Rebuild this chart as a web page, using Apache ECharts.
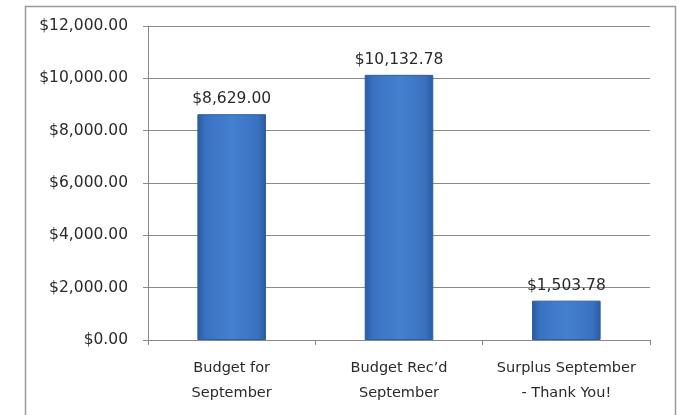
<!DOCTYPE html>
<html><head><meta charset="utf-8">
<script src="https://cdn.jsdelivr.net/npm/echarts@6/dist/echarts.min.js"></script>
<style>html,body{margin:0;padding:0;background:#fff}#c{width:680px;height:415px}</style>
</head><body><div id="c"></div>
<script>
const categories = ['Budget for\nSeptember', "Budget Rec\u2019d\nSeptember", 'Surplus September\n- Thank You!'];
const values = [8629.00, 10132.78, 1503.78];
const yTicks = [0, 2000, 4000, 6000, 8000, 10000, 12000];

const fmt = v => '$' + Number(v).toLocaleString('en-US', {minimumFractionDigits: 2, maximumFractionDigits: 2});
const font = "'DejaVu Sans', sans-serif";

const chart = echarts.init(document.getElementById('c'), null, {renderer: 'canvas'});
chart.setOption({
  animation: false,
  backgroundColor: '#fff',
  graphic: [{
    type: 'rect', left: 23, top: 4,
    shape: {width: 650, height: 460},
    style: {fill: 'none', stroke: '#9a9a9a', lineWidth: 1.5},
    silent: true, z: -1
  }],
  grid: {left: 148, right: 30, top: 26, bottom: 75},
  xAxis: {
    type: 'category',
    data: categories,
    axisLine: {show: true, lineStyle: {color: '#888', width: 1}},
    axisTick: {show: true, length: 5, lineStyle: {color: '#888'}},
    axisLabel: {color: '#2a2a2a', fontFamily: font, fontSize: 14.5, lineHeight: 25, margin: 16, interval: 0}
  },
  yAxis: {
    type: 'value',
    min: yTicks[0], max: yTicks[yTicks.length - 1], interval: 2000,
    axisLine: {show: true, lineStyle: {color: '#888', width: 1}},
    axisTick: {show: true, length: 5, lineStyle: {color: '#888'}},
    splitLine: {show: true, lineStyle: {color: '#8a8a8a', width: 1}},
    axisLabel: {color: '#2a2a2a', fontFamily: font, fontSize: 15.5, margin: 20, formatter: v => fmt(v)}
  },
  series: [{
    type: 'bar',
    data: values,
    barWidth: '41%',
    itemStyle: {
      color: new echarts.graphic.LinearGradient(0, 0, 1, 0, [
        {offset: 0, color: '#2a5a9e'},
        {offset: 0.12, color: '#3a72c0'},
        {offset: 0.5, color: '#4480cf'},
        {offset: 0.88, color: '#3a72c0'},
        {offset: 1, color: '#2a5a9e'}
      ]),
      borderColor: '#2c5e9f', borderWidth: 1
    },
    label: {
      show: true, position: 'top', distance: 7,
      color: '#2a2a2a', fontFamily: font, fontSize: 15.5,
      formatter: p => fmt(p.value)
    }
  }]
});
</script></body></html>
